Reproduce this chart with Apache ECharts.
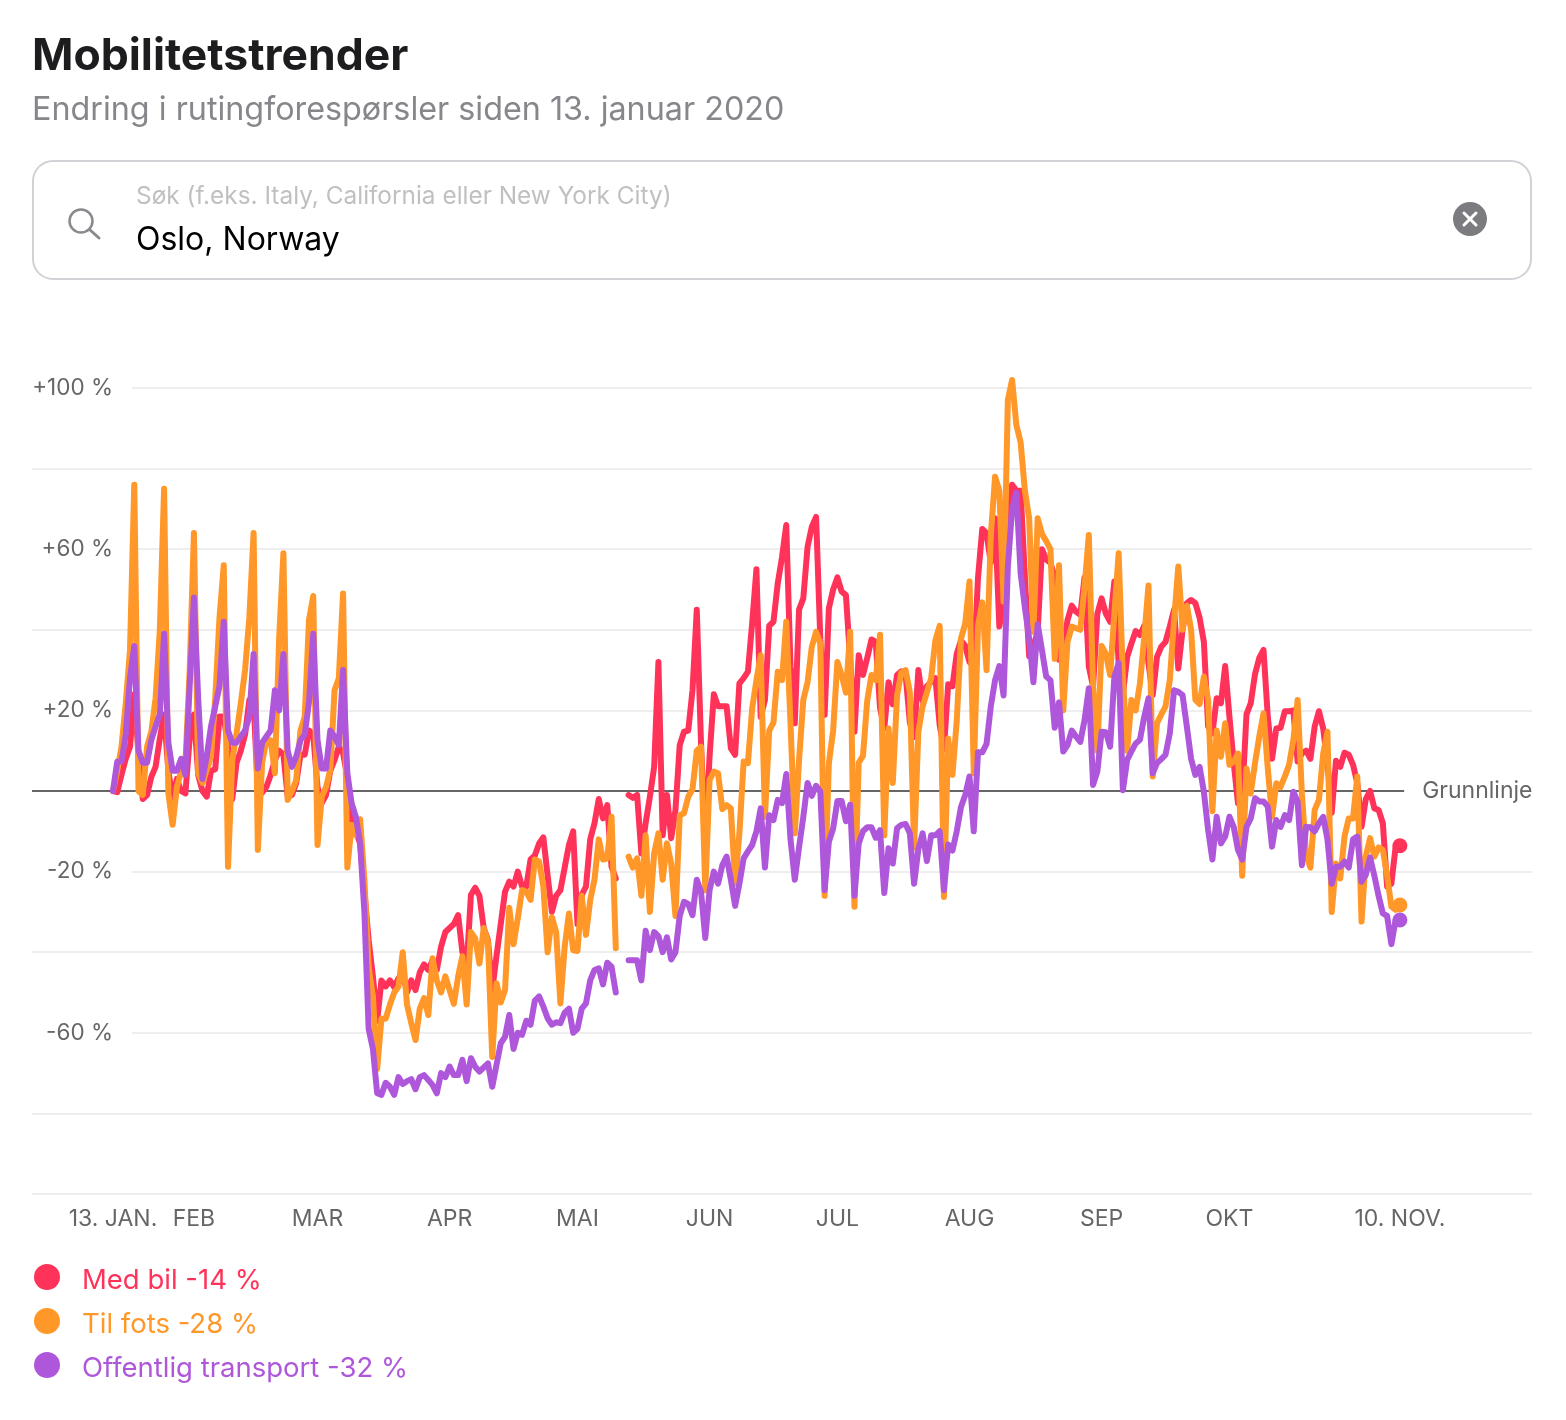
<!DOCTYPE html>
<html>
<head>
<meta charset="utf-8">
<title>Mobilitetstrender</title>
<script src="https://cdn.jsdelivr.net/npm/echarts@6/dist/echarts.min.js"></script>
<style>
html, body { margin: 0; padding: 0; background: #fff; }
#container { width: 1566px; height: 1420px; }
</style>
</head>
<body>
<div id="container"></div>
<script>
var FONT = 'Inter, "Noto Sans", sans-serif';

// day index since 13 Jan 2020, null = no data (11-12 May)
var medBil = [
  0,-0.3,4,8,11,24,9,-2,-1,3.5,
  6,13,19,5,-2,3,0,-0.6,13,19,
  4,0,-1.4,5,5.4,18.5,18.5,11,-2,7,
  10,14,22.6,22,0,-0.4,1,4,7.7,10,
  9,-1.4,-1,2,9,9,15,14,1,-3,
  -1,5,7.7,11,9.4,3.5,-8,-10,-13,-25,
  -37,-46,-57,-47,-48.5,-47,-48.7,-46.5,-45,-50,
  -47,-49.4,-45,-43,-44.4,-42,-44.4,-38.6,-35,-34,
  -33,-30.8,-40,-43.6,-25.8,-24,-26,-34,-37,-49.4,
  -41,-33,-25,-22.5,-23.7,-20,-23.7,-23.7,-17,-16,
  -13,-11.5,-21,-30,-26,-24.6,-19,-13.4,-10,-33,
  -25.8,-23.7,-12,-8,-2,-6.8,-3.5,-18.8,-21.7,null,
  null,-1,-1.7,-1,-15.5,-8,-1.4,6,32,-11,
  -1,-11.7,-4.7,11.4,14.7,15,25,45,11.8,-13,
  8.5,24,21,21,21,10.6,9,26.7,28,29.6,
  41.6,55,18.4,22.6,41,42,51.5,58,66,30.8,
  16.8,45,47.8,60.6,65.6,68,37.5,18.9,45.3,50,
  53,49.5,48.6,32.5,14.7,33.7,28.8,33,37.6,37,
  20.7,15.5,27,21.5,28.8,29.7,29,17,13.4,30,
  22.4,26,27,28,16.4,10.4,26.5,26,34,37.4,
  36,32,31,53,65,64,56.6,67.7,40.8,47,
  61,76,74.5,74.5,53,33.5,36,39.5,60,57.4,
  56.6,53,32.6,35.8,42.4,46,44.5,43.7,53,30.9,
  25.9,44,47.8,44,42,52,31.7,24,33.3,36.6,
  39.7,38.7,41,31.7,23.8,33.3,35.8,37,40.8,45,
  30.4,40,46.6,47.4,46.6,43,37,16,14.3,23,
  21.8,31,18.4,7,-3,-1.4,19,21.8,29,33,
  35,18.4,8,15.5,15.7,19.8,19.8,20,7.3,9.3,
  10,8,16,19.8,15.5,6.9,-5.4,7.5,6,9.5,
  9,6.5,2,-8.9,-2,0,-4.3,-4.7,-8,-23.7,
  -23,-13.8,-13.6
];
var tilFots = [
  0,5,11,21.7,35,76,0,-1,11,14.7,
  23,40,75,-0.6,-8.4,1,4.8,7,30,64,
  4.4,2,5.2,8.5,23,43,56,-18.8,7.7,14.3,
  21.8,30,43,64,-14.6,7,12.6,12.6,4.4,38,
  59,-2.2,0,2.7,15,18.4,42.4,48.4,-13.4,-1.4,
  1,5.2,25,28,49,-19,-8.4,-11,-7,-22,
  -43.6,-51,-69,-56.5,-56.5,-53,-50,-48.5,-40,-53,
  -57.6,-61.8,-54,-51.4,-55.6,-41.5,-47,-50,-46,-49.4,
  -52.8,-46,-41,-53,-35,-36.6,-42.8,-34,-37.4,-66,
  -47.7,-52.5,-49.4,-29,-38,-31.6,-24.6,-25,-27,-17,
  -17.5,-23.7,-40,-31.3,-35,-52.7,-38.6,-30.4,-39.5,-39.7,
  -26,-35.7,-27,-22,-12,-17,-16.7,-6.4,-39,null,
  null,-16.3,-19,-16.7,-26,-11,-30,-15.5,-10.5,-22,
  -13,-18,-31,-6,-5.5,-1.4,0.4,10,11,-24.6,
  2.7,4.8,4.4,-4.5,-3.5,-4.3,-23,-10.5,7.3,6.9,
  20.5,27.5,33.7,-6.4,15,17,29.6,27.5,42,16.8,
  -10.5,7.7,22.6,27,35.8,39.5,36.6,-26,6.9,15,
  32,28.8,24.4,39.5,-28.7,7,8.7,22.4,28.8,27.5,
  38.8,-11,15.5,2,23.7,29.4,30,24.5,-14,14.7,
  21,24.5,28,37.4,41,-26.3,13,4,17.3,37.8,
  41.6,52,4.4,41,46.8,30,63.4,78,74.5,47,
  97,102,90.8,86.5,74.5,67.7,39.5,67.7,63.8,62,
  60,32.8,56,20,37,40.8,40.4,40,50.7,63.5,
  25.9,10,36,34,28.8,44,59,28,10,22.6,
  20,26.7,38,51,3.6,16.8,19,21,27.5,42.4,
  55.7,40,46,40,22.6,21.6,28.4,22.6,-5,15,
  8.5,16.8,6.5,7.3,9.3,-21,5.6,-0.6,6.9,13.5,
  19.3,5.6,-6.4,1.9,1,3.6,6.5,12.7,22.6,-0.6,
  -16,-19,-4.7,-2.2,9.3,14.7,-30,-18,-21.7,-11.3,
  -6.8,-6.8,3.6,-32.4,-16.3,-11.7,-16.3,-14,-14.6,-21,
  -28.7,-29.5,-28.3
];
var offentlig = [
  0,7.3,7.3,14,28,36,10,7,7,12.6,
  16,19,39,12,5,5,8,4,26,48,
  23,3,8.5,16,21,26,42,15,12,12,
  13.5,15,18.5,34,5.6,12,13.5,15,25,20,
  34,10,6,8.5,12.6,14,22,39,12.6,5.6,
  5.6,15,13.5,11.4,30,4.4,-3,-6.4,-13,-30,
  -59,-64,-75,-75.4,-72.4,-73.4,-75.4,-71,-72.7,-72,
  -71.5,-74,-71,-70.5,-71.7,-73,-75,-70,-71,-68.4,
  -70.5,-70.5,-66.7,-72,-66.3,-68.4,-69.6,-68.6,-67.6,-73.4,
  -68,-62.6,-61,-55.6,-64,-60,-60.5,-57,-58,-52,
  -51,-53.5,-56.4,-58,-57.4,-57.6,-55,-54,-60,-59,
  -54,-52.7,-47,-44.4,-44,-48,-42.6,-43.6,-50,null,
  null,-42,-42,-42,-47,-34.7,-39.5,-35,-36,-40,
  -36.3,-41.8,-40,-31,-27.5,-28,-30.8,-22,-25,-36.5,
  -24.6,-20,-23,-18.4,-16.3,-22,-28.5,-23,-16.7,-15,
  -13.4,-10,-4.3,-19,-6,-7.2,-2.2,-3,4.2,-12,
  -22,-14,-6.4,2,-1.2,1.3,-0.2,-24.6,-12.6,-9.3,
  -2.5,-2.5,-7.5,-3.4,-26,-13,-10,-9,-9,-11.6,
  -9.7,-25.3,-14.2,-18,-9.2,-8.4,-8.2,-10.5,-23,-14.4,
  -10.5,-17.4,-11,-11,-10,-24.6,-13.3,-14.8,-10,-4,
  -1,3.6,-10,9.6,9.6,11.7,21,27.5,31,23.7,
  55.7,70,74,54,45.5,37.8,27,41.4,35,28.4,
  27.5,15.7,22,9.8,11.4,15,13.5,12.2,17.6,25.5,
  1.5,4.8,14.7,14.6,11,28.4,31.8,0.2,7.7,9.8,
  11.8,12.7,18.4,23,4.4,6.9,7.9,9,14.3,25,
  24.6,23.8,16,8,4,6,-0.2,-9.7,-17,-6.4,
  -13,-11.3,-6.4,-8.9,-14.6,-17,-8.9,-6.8,-1.8,-2.6,
  -2.6,-3.9,-13.8,-7.2,-8.9,-6,-7.2,-0.2,-2.6,-18.4,
  -8.9,-9,-10,-8,-6.4,-12,-23,-18.8,-18.8,-17.5,
  -19,-12,-11.3,-22.5,-20.8,-16.5,-21,-26,-30.4,-31,
  -38,-32,-32
];

var seriesNames = ['Med bil -14 %', 'Til fots -28 %', 'Offentlig transport -32 %'];
var seriesColors = ['#ff3359', '#ff9729', '#ae57db'];

var monthDays = [0, 19, 48, 79, 109, 140, 170, 201, 232, 262, 302];
var monthLabels = ['13. JAN.', 'FEB', 'MAR', 'APR', 'MAI', 'JUN', 'JUL', 'AUG', 'SEP', 'OKT', '10. NOV.'];

var yTicks = [100, 60, 20, -20, -60];
var yTickLabels = ['+100 %', '+60 %', '+20 %', '-20 %', '-60 %'];
var shortGrid = yTicks;                  // these stop short of the labels
var fullGrid = [80, 40, -40, -80, -100]; // these run the whole width

var xMin = -19, xMax = 333, baselineEnd = 303;
var labelledGridStart = 4.5;

function lineSeries(i, values) {
  return {
    name: seriesNames[i],
    type: 'line',
    z: 5 + i,
    clip: false,
    symbol: 'none',
    showAllSymbol: true,
    smooth: false,
    connectNulls: false,
    color: seriesColors[i],
    lineStyle: { width: 6, color: seriesColors[i], join: 'round', cap: 'round' },
    data: values.map(function (v, d) {
      if (d === values.length - 1) {
        return { value: [d, v], symbol: 'circle', symbolSize: 15, itemStyle: { color: seriesColors[i] } };
      }
      return [d, v];
    })
  };
}

function gridLine(from, v) {
  return [{ coord: [from, v] }, { coord: [xMax, v] }];
}

var gridLines = shortGrid.map(function (v) { return gridLine(labelledGridStart, v); })
  .concat(fullGrid.map(function (v) { return gridLine(xMin, v); }));

var helper = {
  name: 'grid',
  type: 'line',
  data: [],
  z: 1,
  silent: true,
  markLine: {
    silent: true,
    symbol: 'none',
    animation: false,
    label: { show: false },
    lineStyle: { type: 'solid', color: '#eeeeee', width: 2 },
    data: gridLines
  }
};
var baseline = {
  name: 'baseline',
  type: 'line',
  data: [],
  z: 2,
  silent: true,
  markLine: {
    silent: true,
    symbol: 'none',
    animation: false,
    lineStyle: { type: 'solid', color: '#666666', width: 2 },
    label: {
      show: true, position: 'end', distance: 18, formatter: 'Grunnlinje',
      padding: [3, 0, 0, 0],
      fontFamily: FONT, fontSize: 23, color: '#666666'
    },
    data: [[{ coord: [xMin, 0] }, { coord: [baselineEnd, 0] }]]
  }
};

var searchBox = [
  { type: 'rect', shape: { x: 33, y: 161, width: 1498, height: 118, r: 20 },
    style: { fill: '#fff', stroke: '#d1d1d6', lineWidth: 2 } },
  { type: 'circle', shape: { cx: 81, cy: 221, r: 11.5 },
    style: { fill: 'none', stroke: '#8a8a8e', lineWidth: 2.5 } },
  { type: 'line', shape: { x1: 89.5, y1: 229.5, x2: 99, y2: 238 },
    style: { stroke: '#8a8a8e', lineWidth: 3, lineCap: 'round' } },
  { type: 'text', x: 136, y: 197,
    style: { text: 'Søk (f.eks. Italy, California eller New York City)', font: '24.4px ' + FONT, fill: '#c0c0c2', textVerticalAlign: 'middle' } },
  { type: 'text', x: 136, y: 240,
    style: { text: 'Oslo, Norway', font: '32px ' + FONT, fill: '#000', textVerticalAlign: 'middle' } },
  { type: 'circle', shape: { cx: 1470, cy: 219, r: 17 }, style: { fill: '#7c7c80' } },
  { type: 'line', shape: { x1: 1464, y1: 213, x2: 1476, y2: 225 },
    style: { stroke: '#fff', lineWidth: 3, lineCap: 'round' } },
  { type: 'line', shape: { x1: 1476, y1: 213, x2: 1464, y2: 225 },
    style: { stroke: '#fff', lineWidth: 3, lineCap: 'round' } }
];

var myChart = echarts.init(document.getElementById('container'));

var option = {
  animation: false,
  backgroundColor: '#fff',
  title: {
    left: 32,
    top: 34,
    text: 'Mobilitetstrender',
    textStyle: { fontFamily: FONT, fontSize: 44.5, fontWeight: 700, color: '#1d1d1f' },
    subtext: 'Endring i rutingforespørsler siden 13. januar 2020',
    subtextStyle: { fontFamily: FONT, fontSize: 32.3, color: '#86868b' },
    itemGap: 15,
    padding: 0
  },
  graphic: searchBox,
  legend: {
    left: 34,
    top: 1264,
    orient: 'vertical',
    itemWidth: 26,
    itemHeight: 26,
    itemGap: 13,
    icon: 'circle',
    selectedMode: false,
    formatter: '{t|{name}}',
    data: seriesNames.map(function (n, i) {
      return { name: n, textStyle: { color: seriesColors[i] } };
    }),
    textStyle: {
      fontFamily: FONT,
      fontSize: 27.5,
      padding: [0, 0, 0, 17],
      rich: { t: { fontFamily: FONT, fontSize: 27.5, padding: [8, 0, 0, 0] } }
    },
    padding: [0, 0, 0, 0]
  },
  grid: { left: 32, right: 34, top: 388, height: 806, containLabel: false },
  xAxis: {
    type: 'value',
    min: xMin,
    max: xMax,
    splitLine: { show: false },
    axisLine: { show: false },
    axisTick: { show: false },
    axisLabel: {
      customValues: monthDays,
      showMinLabel: true,
      showMaxLabel: true,
      margin: 14,
      fontFamily: FONT,
      fontSize: 23,
      color: '#666666',
      formatter: function (v) { return monthLabels[monthDays.indexOf(v)]; }
    }
  },
  yAxis: {
    type: 'value',
    min: -100,
    max: 100,
    interval: 20,
    splitLine: { show: false },
    axisLine: { show: false },
    axisTick: { show: false },
    axisLabel: {
      customValues: yTicks,
      inside: true,
      margin: 81,
      align: 'right',
      padding: [4, 0, 0, 0],
      fontFamily: FONT,
      fontSize: 22.5,
      color: '#666666',
      formatter: function (v) { return yTickLabels[yTicks.indexOf(v)]; }
    }
  },
  series: [
    helper,
    baseline,
    lineSeries(0, medBil),
    lineSeries(1, tilFots),
    lineSeries(2, offentlig)
  ]
};

myChart.setOption(option, true);
</script>
</body>
</html>
